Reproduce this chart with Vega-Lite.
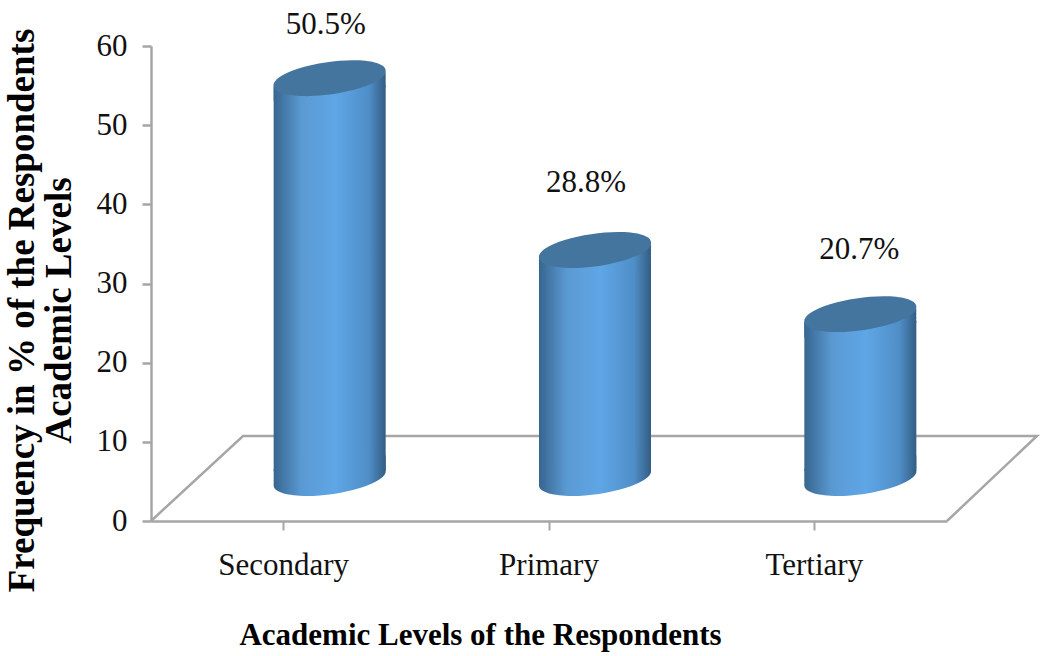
{
"$schema":"https://vega.github.io/schema/vega-lite/v6.json",
"width":796,"height":475,
"autosize":{"type":"none"},
"padding":{"left":151,"top":46,"right":94,"bottom":135},
"background":"white",
"view":{"stroke":null},
"config":{"font":"Liberation Serif"},
"datasets":{
"levels":[{"level":"Secondary","freq":50.5,"label":"50.5%"},{"level":"Primary","freq":28.8,"label":"28.8%"},{"level":"Tertiary","freq":20.7,"label":"20.7%"}],
"floor":[{"step":1,"fx":0,"fy":0},{"step":2,"fx":0.1156,"fy":10.74},{"step":3,"fx":1.113,"fy":10.74},{"step":4,"fx":1,"fy":0}]
},
"resolve":{"scale":{"x":"independent"}},
"layer":[
{"data":{"name":"floor"},"mark":{"type":"line","color":"#a6a6a6","strokeWidth":2.5,"clip":false},
 "encoding":{"x":{"field":"fx","type":"quantitative","scale":{"domain":[0,1],"nice":false},"axis":null},
 "y":{"field":"fy","type":"quantitative","scale":{"domain":[0,60],"nice":false}},
 "order":{"field":"step","type":"quantitative"}}},
{"data":{"name":"levels"},
 "encoding":{
  "x":{"field":"level","type":"nominal","sort":["Secondary","Primary","Tertiary"],
   "scale":{"paddingInner":0,"paddingOuter":0},
   "axis":{"title":"Academic Levels of the Respondents","titleFont":"Liberation Serif","titleFontWeight":"bold","titleFontSize":31,"titleColor":"black","titleX":329,"titleY":99,"labelAngle":0,"labelFont":"Liberation Serif","labelFontSize":31,"labelColor":"#111","labelPadding":20,"tickColor":"#a6a6a6","tickWidth":2,"tickSize":9,"domainColor":"#a6a6a6","domainWidth":2.5,"grid":false}},
  "y":{"field":"freq","type":"quantitative","scale":{"domain":[0,60],"nice":false},
   "axis":{"title":["Frequency in % of the Respondents","Academic Levels"],"titleFont":"Liberation Serif","titleFontWeight":"bold","titleFontSize":37,"titleColor":"black","titleLineHeight":37,"titleAngle":270,"titleX":-110,"titleY":264,"values":[0,10,20,30,40,50,60],"labelFont":"Liberation Serif","labelFontSize":31,"labelColor":"#111","labelPadding":15,"tickColor":"#a6a6a6","tickWidth":2.5,"tickSize":9,"domainColor":"#a6a6a6","domainWidth":2.5,"grid":false}}
 },
 "layer":[
 {"mark":{"type":"bar","size":112,"xOffset":46,"yOffset":-36,"y2Offset":-50,"fill":{"gradient":"linear","x1":0,"x2":1,"y1":0,"y2":0,"stops":[{"offset":0,"color":"#37658f"},{"offset":0.25,"color":"#5a9ad3"},{"offset":0.55,"color":"#5fa6e6"},{"offset":0.85,"color":"#4f8ec7"},{"offset":1,"color":"#335d83"}]}},
  "encoding":{"y2":{"datum":0}}},
 {"mark":{"type":"point","filled":true,"opacity":1,"size":12800,"xOffset":46,"yOffset":-29,"shape":"M -0.99 0.139 A 1 0.28 -8 1 1 0.99 -0.139 A 1 0.28 -8 1 1 -0.99 0.139 Z","fill":{"gradient":"linear","x1":0,"x2":1,"y1":0,"y2":0,"stops":[{"offset":0,"color":"#37658f"},{"offset":0.25,"color":"#5a9ad3"},{"offset":0.55,"color":"#5fa6e6"},{"offset":0.85,"color":"#4f8ec7"},{"offset":1,"color":"#335d83"}]}}},
 {"mark":{"type":"point","filled":true,"opacity":1,"size":12800,"xOffset":46,"yOffset":-32.5,"shape":"M -0.99 0.139 A 1 0.28 -8 1 1 0.99 -0.139 A 1 0.28 -8 1 1 -0.99 0.139 Z","fill":{"gradient":"linear","x1":0,"x2":1,"y1":0,"y2":0,"stops":[{"offset":0,"color":"#37658f"},{"offset":0.25,"color":"#5a9ad3"},{"offset":0.55,"color":"#5fa6e6"},{"offset":0.85,"color":"#4f8ec7"},{"offset":1,"color":"#335d83"}]}}},
 {"mark":{"type":"point","filled":true,"opacity":1,"size":12800,"xOffset":46,"yOffset":-36,"shape":"M -0.99 0.139 A 1 0.28 -8 1 1 0.99 -0.139 A 1 0.28 -8 1 1 -0.99 0.139 Z","fill":{"gradient":"linear","x1":0,"x2":1,"y1":0,"y2":0,"stops":[{"offset":0,"color":"#37658f"},{"offset":0.25,"color":"#5a9ad3"},{"offset":0.55,"color":"#5fa6e6"},{"offset":0.85,"color":"#4f8ec7"},{"offset":1,"color":"#335d83"}]}}},
 {"mark":{"type":"point","filled":true,"opacity":1,"size":12800,"xOffset":46,"yOffset":-39.5,"shape":"M -0.99 0.139 A 1 0.28 -8 1 1 0.99 -0.139 A 1 0.28 -8 1 1 -0.99 0.139 Z","fill":{"gradient":"linear","x1":0,"x2":1,"y1":0,"y2":0,"stops":[{"offset":0,"color":"#37658f"},{"offset":0.25,"color":"#5a9ad3"},{"offset":0.55,"color":"#5fa6e6"},{"offset":0.85,"color":"#4f8ec7"},{"offset":1,"color":"#335d83"}]}}},
 {"mark":{"type":"point","filled":true,"opacity":1,"size":12800,"xOffset":46,"yOffset":-43,"shape":"M -0.99 0.139 A 1 0.28 -8 1 1 0.99 -0.139 A 1 0.28 -8 1 1 -0.99 0.139 Z","fill":"#44759f"}},
 {"mark":{"type":"point","filled":true,"opacity":1,"size":12800,"xOffset":46,"yOffset":-57,"shape":"M -0.99 0.139 A 1 0.28 -8 1 1 0.99 -0.139 A 1 0.28 -8 1 1 -0.99 0.139 Z","fill":{"gradient":"linear","x1":0,"x2":1,"y1":0,"y2":0,"stops":[{"offset":0,"color":"#37658f"},{"offset":0.25,"color":"#5a9ad3"},{"offset":0.55,"color":"#5fa6e6"},{"offset":0.85,"color":"#4f8ec7"},{"offset":1,"color":"#335d83"}]}},"encoding":{"y":{"datum":0}}},
 {"mark":{"type":"point","filled":true,"opacity":1,"size":12800,"xOffset":46,"yOffset":-53.5,"shape":"M -0.99 0.139 A 1 0.28 -8 1 1 0.99 -0.139 A 1 0.28 -8 1 1 -0.99 0.139 Z","fill":{"gradient":"linear","x1":0,"x2":1,"y1":0,"y2":0,"stops":[{"offset":0,"color":"#37658f"},{"offset":0.25,"color":"#5a9ad3"},{"offset":0.55,"color":"#5fa6e6"},{"offset":0.85,"color":"#4f8ec7"},{"offset":1,"color":"#335d83"}]}},"encoding":{"y":{"datum":0}}},
 {"mark":{"type":"point","filled":true,"opacity":1,"size":12800,"xOffset":46,"yOffset":-50,"shape":"M -0.99 0.139 A 1 0.28 -8 1 1 0.99 -0.139 A 1 0.28 -8 1 1 -0.99 0.139 Z","fill":{"gradient":"linear","x1":0,"x2":1,"y1":0,"y2":0,"stops":[{"offset":0,"color":"#37658f"},{"offset":0.25,"color":"#5a9ad3"},{"offset":0.55,"color":"#5fa6e6"},{"offset":0.85,"color":"#4f8ec7"},{"offset":1,"color":"#335d83"}]}},"encoding":{"y":{"datum":0}}},
 {"mark":{"type":"point","filled":true,"opacity":1,"size":12800,"xOffset":46,"yOffset":-46.5,"shape":"M -0.99 0.139 A 1 0.28 -8 1 1 0.99 -0.139 A 1 0.28 -8 1 1 -0.99 0.139 Z","fill":{"gradient":"linear","x1":0,"x2":1,"y1":0,"y2":0,"stops":[{"offset":0,"color":"#37658f"},{"offset":0.25,"color":"#5a9ad3"},{"offset":0.55,"color":"#5fa6e6"},{"offset":0.85,"color":"#4f8ec7"},{"offset":1,"color":"#335d83"}]}},"encoding":{"y":{"datum":0}}},
 {"mark":{"type":"point","filled":true,"opacity":1,"size":12800,"xOffset":46,"yOffset":-43,"shape":"M -0.99 0.139 A 1 0.28 -8 1 1 0.99 -0.139 A 1 0.28 -8 1 1 -0.99 0.139 Z","fill":{"gradient":"linear","x1":0,"x2":1,"y1":0,"y2":0,"stops":[{"offset":0,"color":"#37658f"},{"offset":0.25,"color":"#5a9ad3"},{"offset":0.55,"color":"#5fa6e6"},{"offset":0.85,"color":"#4f8ec7"},{"offset":1,"color":"#335d83"}]}},"encoding":{"y":{"datum":0}}},
 {"transform":[{"filter":"datum.level=='Secondary'"}],"mark":{"type":"text","font":"Liberation Serif","fontSize":31,"color":"#111","xOffset":42,"yOffset":-96},"encoding":{"text":{"field":"label"}}},
 {"transform":[{"filter":"datum.level=='Primary'"}],"mark":{"type":"text","font":"Liberation Serif","fontSize":31,"color":"#111","xOffset":37,"yOffset":-110},"encoding":{"text":{"field":"label"}}},
 {"transform":[{"filter":"datum.level=='Tertiary'"}],"mark":{"type":"text","font":"Liberation Serif","fontSize":31,"color":"#111","xOffset":45,"yOffset":-107},"encoding":{"text":{"field":"label"}}}
 ]}
]}
